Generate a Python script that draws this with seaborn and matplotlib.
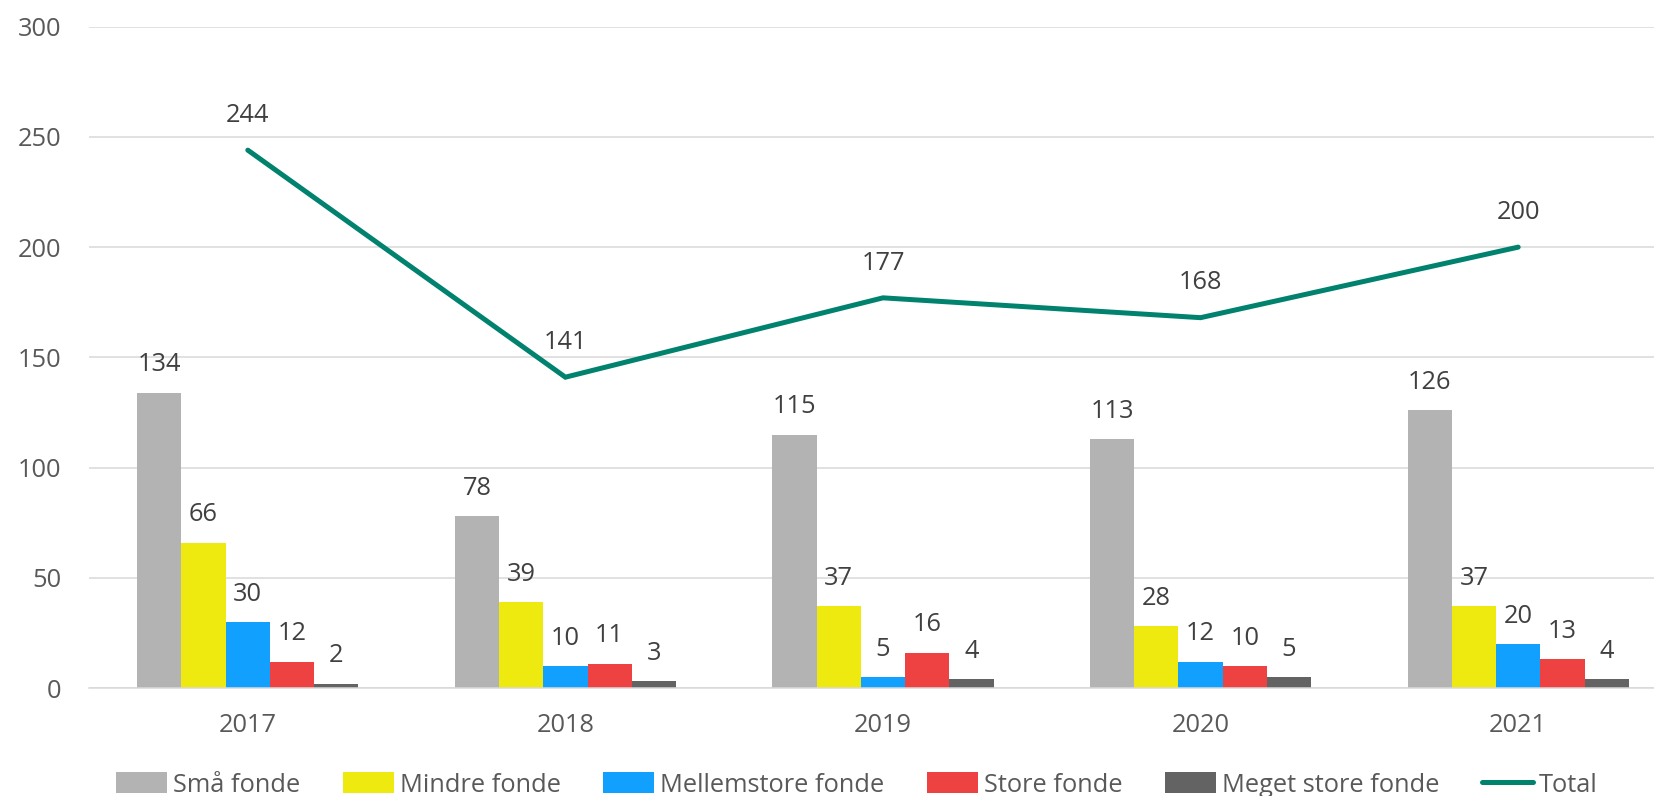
import numpy as np
import pandas as pd
import matplotlib
matplotlib.use("Agg")
import matplotlib.pyplot as plt
from matplotlib.lines import Line2D
import seaborn as sns

years = ["2017", "2018", "2019", "2020", "2021"]
series_names = ["Små fonde", "Mindre fonde", "Mellemstore fonde", "Store fonde", "Meget store fonde"]
sma = [134, 78, 115, 113, 126]
mindre = [66, 39, 37, 28, 37]
mellemstore = [30, 10, 5, 12, 20]
store = [12, 11, 16, 10, 13]
meget_store = [2, 3, 4, 5, 4]
total = [244, 141, 177, 168, 200]
y_ticks = [0, 50, 100, 150, 200, 250, 300]

colors = ["#B3B3B3", "#EEEA10", "#12A0FF", "#EE4141", "#636363"]
line_color = "#00826F"
text_dark = "#404040"
tick_color = "#595959"

sns.set_theme(style="white")
plt.rcParams["font.family"] = ["Open Sans", "DejaVu Sans"]

rows = []
for name, vals in zip(series_names, [sma, mindre, mellemstore, store, meget_store]):
    for yr, v in zip(years, vals):
        rows.append({"year": yr, "series": name, "value": v})
df = pd.DataFrame(rows)
df_total = pd.DataFrame({"year": years, "total": total})

fig = plt.figure(figsize=(16.54, 7.96), dpi=100)
ax = fig.add_axes([89 / 1654, 108 / 796, (1677 - 89) / 1654, (688 - 26.7) / 796])

sns.barplot(data=df, x="year", y="value", hue="series", hue_order=series_names,
            order=years, palette=colors, width=0.696, linewidth=0, saturation=1,
            errorbar=None, ax=ax)

for cont in ax.containers:
    ax.bar_label(cont, padding=11, fontsize=18.3, color=text_dark)

sns.pointplot(data=df_total, x="year", y="total", order=years, color=line_color,
              markers="", linestyles="-", errorbar=None, ax=ax)
for ln in ax.lines:
    ln.set_linewidth(3.6)
    ln.set_solid_capstyle("round")
    ln.set_solid_joinstyle("miter")

for i, v in enumerate(total):
    ax.annotate(str(v), xy=(i, v), xytext=(0, 25), textcoords="offset points",
                ha="center", va="center", fontsize=18.3, color=text_dark)

ax.set_ylim(0, 300)
ax.set_xlim(-0.5, len(years) - 0.5)
ax.set_yticks(y_ticks)
ax.set_yticklabels([str(t) for t in y_ticks])
ax.yaxis.grid(True, color="#D9D9D9", linewidth=1.1)
ax.set_axisbelow(True)
for s in ["top", "right", "left"]:
    ax.spines[s].set_visible(False)
ax.spines["bottom"].set_color("#D9D9D9")
ax.spines["bottom"].set_linewidth(1.1)
ax.tick_params(axis="y", length=0, pad=20, labelsize=18.3, labelcolor=tick_color)
ax.tick_params(axis="x", length=0, pad=18, labelsize=18.3, labelcolor=tick_color)
ax.set_xlabel("")
ax.set_ylabel("")

handles, labels = ax.get_legend_handles_labels()
bar_handles = handles[:len(series_names)]
line_handle = Line2D([0], [0], color=line_color, linewidth=3.6, solid_capstyle="round")
leg = ax.get_legend()
if leg is not None:
    leg.remove()
fig.legend(bar_handles + [line_handle], series_names + ["Total"],
           loc="center", bbox_to_anchor=(857 / 1654, 11 / 796), ncol=6, frameon=False,
           fontsize=18.3, labelcolor=tick_color, handlelength=2.0, handleheight=0.9,
           handletextpad=0.25, columnspacing=1.66, borderpad=0, borderaxespad=0)

fig.savefig("out.png", dpi=100)
